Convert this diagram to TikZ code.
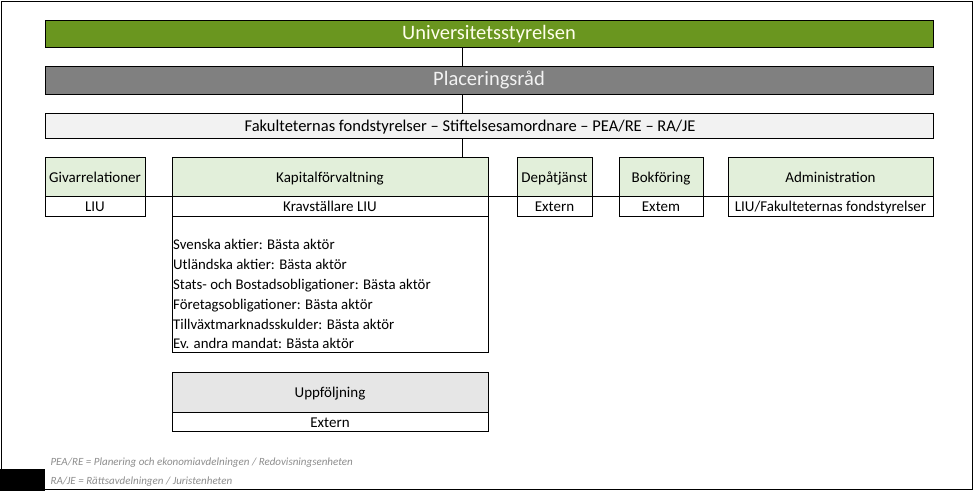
\documentclass[tikz,border=0pt]{standalone}
\usepackage{fontspec}
\setmainfont{Carlito}
\usetikzlibrary{positioning}
\definecolor{styrgreen}{HTML}{6A961F}
\definecolor{raadgray}{HTML}{808080}
\definecolor{fondgray}{HTML}{F2F2F2}
\definecolor{headgreen}{HTML}{E2EFDA}
\definecolor{headgray}{HTML}{E6E6E6}
\tikzset{
    box/.style={draw, inner sep=0pt, outer sep=0pt, line width=0.8pt,
        text height=1.12em, text depth=0pt}, % plain rectangle
    bar/.style={box, minimum width=888pt, font=\fontsize{15}{18}\selectfont}, % wide bars at the top
    head/.style={box, fill=headgreen, minimum height=39pt, font=\fontsize{15}{18}\selectfont}, % function headers
    sub/.style={box, fill=white, minimum height=20pt, font=\fontsize{15}{18}\selectfont}, % line below the header
    note/.style={anchor=west, text=black!45, font=\fontsize{11}{13}\selectfont\itshape},
}

\begin{document}
\begin{tikzpicture}[x=1pt,y=-1pt]
  \useasboundingbox (0,0) rectangle (975,491);
  \draw[line width=0.8pt] (1,1) rectangle (972,489);
  \fill (0,469) rectangle (45,491);

  % top of the organisation
  \node[bar, fill=styrgreen, minimum height=27pt, text=white!92!yellow,
      font=\fontsize{20.5}{24}\selectfont] (uni) at (489,33.5) {Universitetsstyrelsen};
  \node[bar, fill=raadgray, minimum height=28pt, text=white!95!black,
      font=\fontsize{20.5}{24}\selectfont] (plac) at (489,80) {Placeringsråd};
  \node[bar, fill=fondgray, minimum height=25pt,
      font=\fontsize{16.5}{19}\selectfont] (fond) at (489,125.5)
      {Fakulteternas fondstyrelser -- Stiftelsesamordnare -- PEA/RE -- RA/JE\hspace*{38pt}};
  \coordinate (spine) at (462,0);

  % functions
  \node[head, minimum width=100pt] (giv) at (95,176.5) {Givarrelationer};
  \node[sub, minimum width=100pt] (givsub) at (95,206) {LIU};
  \node[head, minimum width=316pt] (kap) at (330,176.5) {Kapitalförvaltning};
  \node[sub, minimum width=316pt] (kapsub) at (330,206) {Kravställare LIU};
  \node[head, minimum width=75pt] (dep) at (554.5,176.5) {Depåtjänst};
  \node[sub, minimum width=75pt] (depsub) at (554.5,206) {Extern};
  \node[head, minimum width=84pt] (bok) at (661,176.5) {Bokföring};
  \node[sub, minimum width=84pt] (boksub) at (661,206) {Extem};
  \node[head, minimum width=205pt] (adm) at (830.5,176.5) {Administration};
  \node[sub, minimum width=205pt] (admsub) at (830.5,206) {LIU/Fakulteternas fondstyrelser};

  % mandates under Kapitalförvaltning
  \node[box, minimum width=316pt, minimum height=136pt, anchor=north] (mandat) at (kapsub.south) {};
  \foreach \t [count=\i] in {Svenska aktier: Bästa aktör, Utländska aktier: Bästa aktör,
      Stats- och Bostadsobligationer: Bästa aktör, Företagsobligationer: Bästa aktör,
      Tillväxtmarknadsskulder: Bästa aktör, Ev. andra mandat: Bästa aktör}
    \node[anchor=west, inner sep=0pt, text height=0.95em, text depth=0pt,
        font=\fontsize{14.8}{18}\selectfont] (m\i) at (173,225.3+19.8*\i) {\t};

  \node[head, fill=headgray, minimum width=316pt, minimum height=40pt] (upp) at (330,392) {Uppföljning};
  \node[sub, minimum width=316pt, minimum height=19pt] (uppsub) at (330,421.5) {Extern};

  % connectors
  \draw[line width=0.8pt] (uni.south -| spine) -- (plac.north -| spine);
  \draw[line width=0.8pt] (plac.south -| spine) -- (fond.north -| spine);
  \draw[line width=0.8pt] (fond.south -| spine) -- (kap.north -| spine);
  \draw[line width=0.8pt] (givsub.north east) -- (admsub.north west);

  % abbreviations
  \node[note] (n1) at (47,463) {PEA/RE = Planering och ekonomiavdelningen / Redovisningsenheten};
  \node[note] (n2) at (47,481.5) {RA/JE = Rättsavdelningen / Juristenheten};
\end{tikzpicture}
\end{document}
